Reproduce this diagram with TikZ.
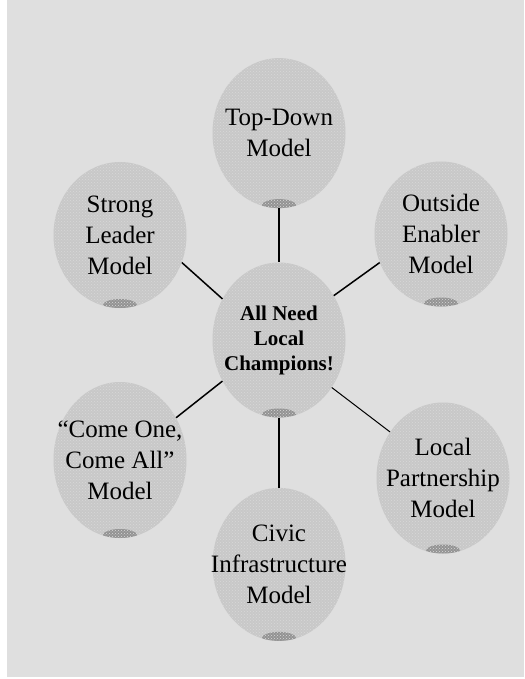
\documentclass[tikz,border=0pt]{standalone}
\usepackage{fontspec}
\setmainfont{Liberation Serif}
\usepackage{tikz}
\usetikzlibrary{shapes.geometric,positioning,patterns}
\definecolor{bggray}{HTML}{DFDFDF}
\definecolor{ballgray}{HTML}{C8C8C8}
\definecolor{shadegray}{HTML}{939393}
\tikzstyle{ball} = [ellipse, fill=ballgray, minimum width=133pt, minimum height=150pt, inner sep=0pt,
  postaction={pattern=crosshatch dots, pattern color=white!85!black},
  path picture={\fill[shadegray] ([yshift=3pt]path picture bounding box.south) ellipse (17pt and 6pt);}]
\tikzstyle{lbl} = [align=center, font=\fontsize{25}{31}\selectfont]
\tikzstyle{link} = [line width=1.5pt]
\tikzstyle{spoke} = [line width=2.8pt]

\begin{document}
\begin{tikzpicture}[x=1pt, y=-1pt]
    \useasboundingbox (0,0) rectangle (524,679);
    \fill[bggray] (7,0) rectangle (524,677);
    \node[ball, minimum height=155pt, label={[lbl, font=\bfseries\fontsize{21}{25}\selectfont]center:All Need\\Local\\Champions!}] (hub) at (279,340) {};
    \node[ball, above=54pt of hub, label={[lbl]center:Top-Down\\Model}] (topdown) {};
    \node[ball, below=70pt of hub, minimum height=153pt, label={[lbl]center:Civic\\Infrastructure\\Model}] (civic) {};
    \node[ball, minimum height=146pt, label={[lbl]center:Strong\\Leader\\Model}] (leader) at (120,235) {};
    \node[ball, minimum height=145pt, label={[lbl]center:Outside\\Enabler\\Model}] (enabler) at (441,234) {};
    \node[ball, minimum height=156pt, label={[lbl]center:{``Come One,\\Come All''\\Model}}] (comeall) at (120,460) {};
    \node[ball, minimum height=151pt, label={[lbl]center:Local\\Partnership\\Model}] (partner) at (443,478) {};

    \draw[spoke] (topdown) -- (hub);
    \draw[spoke] (hub) -- (civic);
    \draw[link] (leader.-24) -- (hub.144);
    \draw[link] (enabler.-155) -- (hub.39);
    \draw[link] (comeall.37) -- (hub.-144);
    \draw[link, line width=1pt] (partner.139) -- (hub.-42);
\end{tikzpicture}
\end{document}
